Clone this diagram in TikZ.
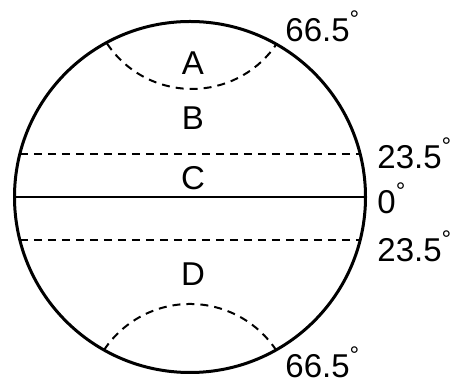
\documentclass[tikz,border=0pt]{standalone}
\usepackage{fontspec}
\setmainfont{Liberation Sans}
\usepackage{tikz}
\usetikzlibrary{positioning,calc}
\newcommand{\globe}{(190,197) circle (175.5)}
\newcommand{\arcN}{(107,43.5) arc[start angle=146.3,end angle=33.7,radius=102.1]}
\newcommand{\arcS}{(104,350) arc[start angle=213.7,end angle=326.3,radius=103.4]}
\newcommand{\latdeg}[1]{#1\raisebox{0.42em}{\fontsize{12}{12}\selectfont °}}

\begin{document}
\begin{tikzpicture}[x=0.5pt,y=-0.5pt,
    zone/.style={inner sep=0pt,font=\fontsize{16.5}{16.5}\selectfont},
    lat/.style={inner sep=0pt,anchor=west,font=\fontsize{16.5}{16.5}\selectfont},
    circle line/.style={dash pattern=on 4pt off 3pt,line width=1pt}]
        \useasboundingbox (0,0) rectangle (454,383);
        \draw[line width=1.5pt] \globe;
        \draw[line width=1pt] (14.5,197) -- (365.5,197);
        % tropics and polar circles
        \foreach \y in {154,240}
            \draw[circle line] (19.8,\y) -- (360.2,\y);
        \draw[circle line] \arcN; \draw[circle line] \arcS;
        % zone letters
        \node[zone] (zA) at (193,63) {A};
        \node[zone] (zB) at (193,118) {B};
        \node[zone] (zC) at (193,178) {C};
        \node[zone] (zD) at (193,274) {D};
        % latitudes on the right
        \node[lat] (nPolar) at (285,26) {\latdeg{66.5}};
        \node[lat] (nTrop) at (377,153) {\latdeg{23.5}};
        \node[lat] (eq) at (377,198) {\latdeg{0}};
        \node[lat] (sTrop) at (377,246) {\latdeg{23.5}};
        \node[lat] (sPolar) at (285,362) {\latdeg{66.5}};
      \end{tikzpicture}
\end{document}
